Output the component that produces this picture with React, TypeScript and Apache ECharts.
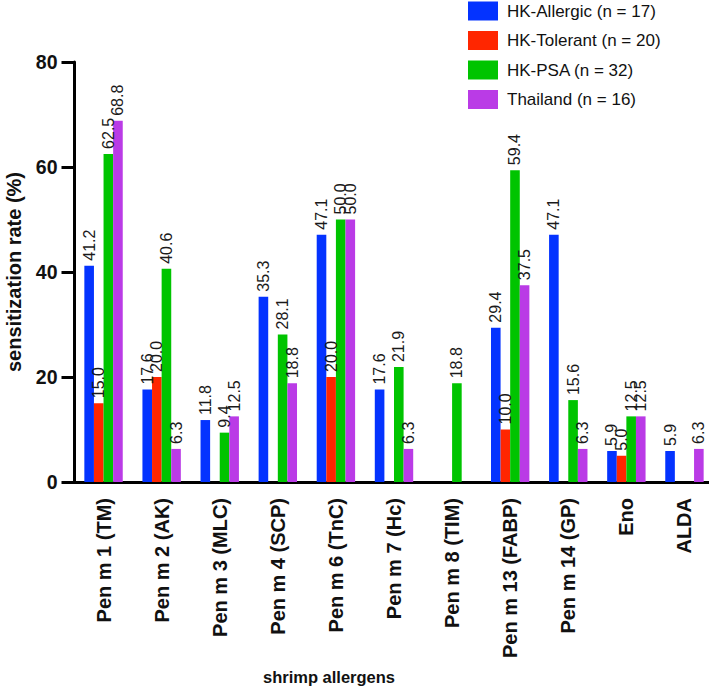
import React, { useEffect, useRef } from "react";
import * as echarts from "echarts";

const categories = [
  "Pen m 1 (TM)",
  "Pen m 2 (AK)",
  "Pen m 3 (MLC)",
  "Pen m 4 (SCP)",
  "Pen m 6 (TnC)",
  "Pen m 7 (Hc)",
  "Pen m 8 (TIM)",
  "Pen m 13 (FABP)",
  "Pen m 14 (GP)",
  "Eno",
  "ALDA",
];

const hkAllergic = [41.2, 17.6, 11.8, 35.3, 47.1, 17.6, 0, 29.4, 47.1, 5.9, 5.9];
const hkTolerant = [15.0, 20.0, 0, 0, 20.0, 0, 0, 10.0, 0, 5.0, 0];
const hkPSA = [62.5, 40.6, 9.4, 28.1, 50.0, 21.9, 18.8, 59.4, 15.6, 12.5, 0];
const thailand = [68.8, 6.3, 12.5, 18.8, 50.0, 6.3, 0, 37.5, 6.3, 12.5, 6.3];

const seriesNames = [
  "HK-Allergic (n = 17)",
  "HK-Tolerant (n = 20)",
  "HK-PSA (n = 32)",
  "Thailand (n = 16)",
];
const seriesColors = ["#0433FF", "#FF2600", "#00C400", "#BA3BE6"];
const yTicks = [0, 20, 40, 60, 80];

const FONT = "'Liberation Sans', Arial, Helvetica, sans-serif";

export default function App() {
  const ref = useRef<HTMLDivElement>(null);

  useEffect(() => {
    if (!ref.current) return;
    const chart = echarts.init(ref.current, null, { renderer: "svg" });
    const datasets = [hkAllergic, hkTolerant, hkPSA, thailand];
    chart.setOption({
      animation: false,
      textStyle: { fontFamily: FONT },
      legend: {
        orient: "vertical",
        left: 468,
        top: 1.5,
        padding: 0,
        itemWidth: 30,
        itemHeight: 19,
        itemGap: 10.5,
        icon: "rect",
        textStyle: {
          fontFamily: FONT,
          fontSize: 17,
          color: "#111",
          padding: [0, 0, 0, 4],
        },
        data: seriesNames,
      },
      grid: {
        left: 74.5,
        top: 62,
        width: 639,
        height: 420,
        containLabel: false,
        outerBoundsMode: "none",
      },
      xAxis: {
        type: "category",
        data: categories,
        boundaryGap: true,
        name: "shrimp allergens",
        nameLocation: "middle",
        nameGap: 186,
        nameTextStyle: {
          fontFamily: FONT,
          fontSize: 16.5,
          fontWeight: "bold",
          color: "#111",
          padding: [0, 130, 0, 0],
        },
        axisLine: { lineStyle: { color: "#000", width: 3 } },
        axisTick: { alignWithLabel: true, length: 13, lineStyle: { color: "#000", width: 2.5 } },
        axisLabel: {
          rotate: 90,
          margin: 16,
          fontFamily: FONT,
          fontSize: 20,
          fontWeight: "bold",
          color: "#111",
          interval: 0,
        },
      },
      yAxis: {
        type: "value",
        min: yTicks[0],
        max: yTicks[yTicks.length - 1],
        interval: 20,
        name: "sensitization rate (%)",
        nameLocation: "middle",
        nameGap: 51,
        nameTextStyle: {
          fontFamily: FONT,
          fontSize: 20,
          fontWeight: "bold",
          color: "#111",
        },
        splitLine: { show: false },
        axisLine: { show: true, lineStyle: { color: "#000", width: 3 } },
        axisTick: { show: true, length: 13, lineStyle: { color: "#000", width: 3 } },
        axisLabel: {
          margin: 17,
          fontFamily: FONT,
          fontSize: 19.5,
          fontWeight: "bold",
          color: "#111",
        },
      },
      series: datasets.map((d, i) => ({
        name: seriesNames[i],
        type: "bar",
        data: d,
        barWidth: 9.6,
        barGap: "0%",
        itemStyle: { color: seriesColors[i] },
        label: {
          show: true,
          position: "top",
          rotate: 90,
          align: "left",
          verticalAlign: "middle",
          distance: 5,
          fontFamily: FONT,
          fontSize: 16,
          color: "#1a1a1a",
          formatter: (p: any) => (p.value === 0 ? "" : Number(p.value).toFixed(1)),
        },
      })),
    });
    return () => chart.dispose();
  }, []);

  return (
    <div
      ref={ref}
      style={{ position: "absolute", left: 0, top: 0, width: 709, height: 688 }}
    />
  );
}
